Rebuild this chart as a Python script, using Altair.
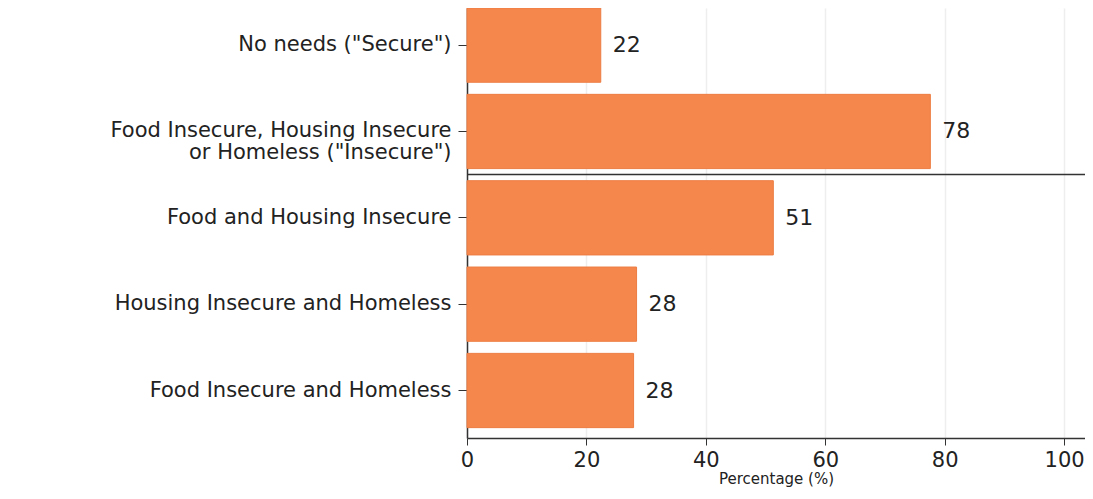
import altair as alt
import pandas as pd

categories = [
    'No needs ("Secure")',
    'Food Insecure, Housing Insecure|or Homeless ("Insecure")',
    'Food and Housing Insecure',
    'Housing Insecure and Homeless',
    'Food Insecure and Homeless',
]
values = [22.4, 77.6, 51.3, 28.4, 27.9]
value_labels = ["22", "78", "51", "28", "28"]
x_ticks = [0, 20, 40, 60, 80, 100]
divider_after = 'Food Insecure, Housing Insecure|or Homeless ("Insecure")'

df = pd.DataFrame({"cat": categories, "val": values, "lab": value_labels})
div_df = pd.DataFrame({"cat": [divider_after]})

FONT = "DejaVu Sans"
PAD_IN = 0.14

y_enc = alt.Y(
    "cat:N",
    sort=categories,
    title=None,
    scale=alt.Scale(paddingInner=PAD_IN, paddingOuter=0.06, align=0),
    axis=alt.Axis(
        labelExpr="split(datum.label, '|')",
        labelFont=FONT,
        labelFontSize=21,
        labelColor="#222222",
        labelLineHeight=22,
        labelPadding=7,
        tickSize=9,
        tickColor="#333333",
        domainColor="#333333",
        domainWidth=1.5,
        grid=False,
        labelLimit=500,
    ),
)

x_scale = alt.Scale(domain=[0, 103.5], nice=False, zero=True)

bars = alt.Chart(df).mark_bar(
    color="#F6874C", stroke="#EC7C42", strokeWidth=1
).encode(
    y=y_enc,
    x=alt.X(
        "val:Q",
        scale=x_scale,
        title="Percentage (%)",
        axis=alt.Axis(
            values=x_ticks,
            labelFont=FONT,
            labelFontSize=21,
            labelColor="#222222",
            labelPadding=4,
            labelFlush=False,
            tickSize=7,
            tickColor="#333333",
            domainColor="#333333",
            domainWidth=1.5,
            titleFont=FONT,
            titleFontSize=15,
            titleFontWeight="normal",
            titleColor="#222222",
            titlePadding=1,
            grid=True,
            gridColor="#EEEEEE",
            gridWidth=1.5,
        ),
    ),
)

text = alt.Chart(df).mark_text(
    align="left", baseline="middle", dx=12, font=FONT, fontSize=22, color="#222222"
).encode(
    y=alt.Y("cat:N", sort=categories),
    x=alt.X("val:Q", scale=x_scale),
    text="lab:N",
)

divider = alt.Chart(div_df).mark_rule(
    color="#333333", strokeWidth=1.5, yOffset=6
).encode(
    y=alt.Y("cat:N", sort=categories, bandPosition=1),
    x=alt.datum(0),
    x2=alt.datum(103.5),
)

chart = (
    alt.layer(bars, text, divider)
    .properties(
        width=618,
        height=430,
        autosize=alt.AutoSizeParams(type="none"),
        padding={"left": 459, "top": 0, "right": 0, "bottom": 53},
        background="white",
    )
    .configure_view(stroke=None)
)

chart.save("out.html", embed_options={"renderer": "svg", "actions": False})
